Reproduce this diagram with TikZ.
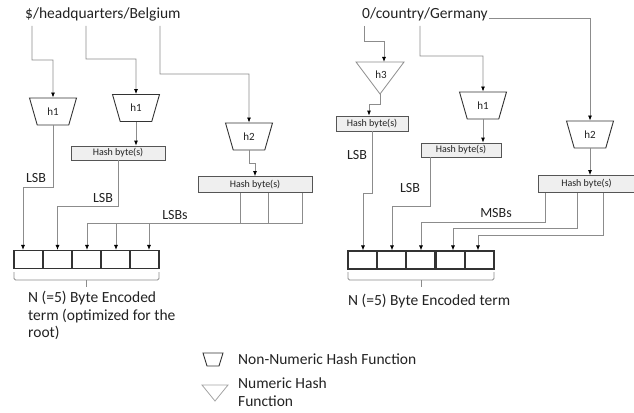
\documentclass[tikz,border=0pt]{standalone}
\usepackage{fontspec}
\setmainfont{Carlito}
\usetikzlibrary{shapes.geometric,arrows.meta,calc}
\definecolor{linegray}{HTML}{8C8C8C}
\definecolor{trapdark}{HTML}{333333}
\definecolor{boxgray}{HTML}{555555}
\definecolor{boxfill}{HTML}{EFEFEF}
\definecolor{celldark}{HTML}{333333}
\definecolor{textdark}{HTML}{222222}
\begin{document}
\begin{tikzpicture}[x=1pt,y=-1pt,
  conn/.style={draw=linegray, line width=0.8pt},
  arr/.style={conn, -{Latex[length=5pt,width=4pt,color=black]}},
  trap/.style={trapezium, shape border rotate=180, trapezium stretches=true,
    draw=trapdark, line width=0.9pt, minimum width=47pt, minimum height=27pt,
    trapezium left angle=70, trapezium right angle=70, inner sep=0pt,
    text=textdark, font=\fontsize{11}{13}\selectfont},
  hash/.style={rectangle, draw=boxgray, fill=boxfill, line width=0.8pt,
    inner sep=0pt, text=textdark, font=\fontsize{10}{12}\selectfont},
  cell/.style={rectangle, draw=celldark, line width=1.1pt, minimum width=29pt,
    minimum height=18pt, inner sep=0pt},
  lbl/.style={font=\fontsize{14}{16}\selectfont, text=textdark, inner sep=0pt},
  big/.style={font=\fontsize{15.5}{17.5}\selectfont, text=textdark, inner sep=0pt},
  tri/.style={draw=linegray, line width=0.8pt, line join=miter},
]
\useasboundingbox (0,0) rectangle (634,412);

% ---------------- Left part ----------------
\node[big, anchor=west] (tL) at (25,14) {\$/headquarters/Belgium};
\coordinate (L1) at (32,26);
\coordinate (L2) at (86,26);
\coordinate (L3) at (160,26);

\node[trap] (h1a) at (53,111.5) {h1};
\node[trap] (h1b) at (136,108) {h1};
\node[trap] (h2a) at (249,136.5) {h2};

\node[hash, minimum width=94pt, minimum height=14pt] (hb1) at (118,153) {Hash byte(s)};
\node[hash, minimum width=114pt, minimum height=16pt] (hb2) at (255,184.5) {Hash byte(s)};

\node[cell] (c1) at (28.5,259.5) {};
\node[cell] (c2) at (57.5,259.5) {};
\node[cell] (c3) at (86.5,259.5) {};
\node[cell] (c4) at (115.5,259.5) {};
\node[cell] (c5) at (144.5,259.5) {};

\coordinate (j1) at (53,60);
\coordinate (j2) at (136,59);
\coordinate (j3) at (249,74);
\draw[arr] (L1) |- (j1) -- (h1a.north);
\draw[arr] (L2) |- (j2) -- (h1b.north);
\draw[arr] (L3) |- (j3) -- (h2a.north);

\coordinate (k1) at (23,187);
\draw[arr] (h1a.south) |- (k1) -- (k1 |- c1.north);
\draw[arr] (h1b.south) -- (hb1.north -| h1b.south);
\coordinate (k2) at (57.5,206);
\draw[arr] (hb1.south) |- (k2) -- (c2.north);
\coordinate (k3) at (255,163);
\draw[arr] (h2a.south) |- (k3) -- (hb2.north);

\coordinate (b1) at (240,223);
\coordinate (b2) at (268,223);
\coordinate (b3) at (302,223);
\coordinate (d3) at (87,223);
\coordinate (d4) at (116,223);
\coordinate (d5) at (149,223);
\draw[conn] (b1 |- hb2.south) -- (b1);
\draw[conn] (b2 |- hb2.south) -- (b2);
\draw[arr] (b3 |- hb2.south) -- (b3) -- (d3) -- (d3 |- c3.north);
\draw[arr] (d4) -- (d4 |- c4.north);
\draw[arr] (d5) -- (d5 |- c5.north);

\node[lbl] (lsb1) at (36,178) {LSB};
\node[lbl] (lsb2) at (103,198) {LSB};
\node[lbl] (lsbs) at (175,215) {LSBs};

\draw[conn, rounded corners=1.5pt] (14,272) -- (14,280) -- (159,280) -- (159,272);
\draw[conn] (86.5,280) -- (86.5,287);
\node[big, anchor=north west, align=left] (nL) at (28,291)
  {N (=5) Byte Encoded\\term (optimized for the\\root)};

% ---------------- Right part ----------------
\node[big, anchor=west] (tR) at (362,14) {0/country/Germany};
\coordinate (R1) at (364,26);
\coordinate (R2) at (420,26);
\coordinate (R3) at (489,18);

\coordinate (t3a) at (356,62);
\coordinate (t3b) at (404,62);
\coordinate (t3c) at (380,94);
\draw[tri] (t3a) -- (t3b) -- (t3c) -- cycle;
\node[font=\fontsize{11}{13}\selectfont, text=textdark, inner sep=0pt] (h3) at (381,75) {h3};

\node[trap] (h1c) at (483,105.5) {h1};
\node[trap] (h2b) at (590,134.5) {h2};

\node[hash, minimum width=72pt, minimum height=15pt] (hr1) at (372,123.5) {Hash byte(s)};
\node[hash, minimum width=80pt, minimum height=14pt] (hr2) at (461,150) {Hash byte(s)};
\node[hash, minimum width=97pt, minimum height=17pt] (hr3) at (586.5,184) {Hash byte(s)};

\node[cell] (c6) at (362.5,260) {};
\node[cell] (c7) at (391.5,260) {};
\node[cell] (c8) at (420.5,260) {};
\node[cell] (c9) at (450.5,260) {};
\node[cell] (c10) at (479.5,260) {};

\coordinate (m1) at (384,41);
\coordinate (m2) at (483,56);
\draw[arr] (R1) |- (m1) -- (m1 |- t3a);
\draw[arr] (R2) |- (m2) -- (h1c.north);
\draw[arr] (R3) -| (h2b.north);

\coordinate (m3) at (369,104);
\draw[arr] (t3c) |- (m3) -- (m3 |- hr1.north);
\draw[arr] (h1c.south) -- (h1c.south |- hr2.north);
\draw[arr] (h2b.south) -- (h2b.south |- hr3.north);

\coordinate (n1a) at (372,193);
\coordinate (n1b) at (363,193);
\draw[arr] (n1a |- hr1.south) -- (n1a) -- (n1b) -- (n1b |- c6.north);
\coordinate (n2a) at (430,206);
\coordinate (n2b) at (392,206);
\draw[arr] (n2a |- hr2.south) -- (n2a) -- (n2b) -- (n2b |- c7.north);
\coordinate (p1a) at (545,222);
\coordinate (p1b) at (421,222);
\draw[arr] (p1a |- hr3.south) -- (p1a) -- (p1b) -- (p1b |- c8.north);
\coordinate (p2a) at (577,228);
\coordinate (p2b) at (453,228);
\draw[arr] (p2a |- hr3.south) -- (p2a) -- (p2b) -- (p2b |- c9.north);
\coordinate (p3a) at (603,235);
\coordinate (p3b) at (478,235);
\draw[arr] (p3a |- hr3.south) -- (p3a) -- (p3b) -- (p3b |- c10.north);

\node[lbl] (lsb3) at (357,155) {LSB};
\node[lbl] (lsb4) at (410,188) {LSB};
\node[lbl] (msbs) at (496,213) {MSBs};

\draw[conn, rounded corners=1.5pt] (348,272) -- (348,280) -- (494,280) -- (494,272);
\draw[conn] (421,280) -- (421,287);
\node[big, anchor=west] (nR) at (348,301) {N (=5) Byte Encoded term};

% ---------------- Legend ----------------
\coordinate (q1) at (203,353);
\coordinate (q2) at (223,353);
\coordinate (q3) at (219,366);
\coordinate (q4) at (207,366);
\draw[draw=trapdark, line width=0.9pt] (q1) -- (q2) -- (q3) -- (q4) -- cycle;
\node[big, anchor=west] (lt1) at (238,359) {Non-Numeric Hash Function};
\coordinate (g1) at (202,385);
\coordinate (g2) at (228,385);
\coordinate (g3) at (215,401);
\draw[tri, draw=linegray!80] (g1) -- (g2) -- (g3) -- cycle;
\node[big, anchor=west, align=left] (lt2) at (238,392) {Numeric Hash\\Function};
\end{tikzpicture}
\end{document}
